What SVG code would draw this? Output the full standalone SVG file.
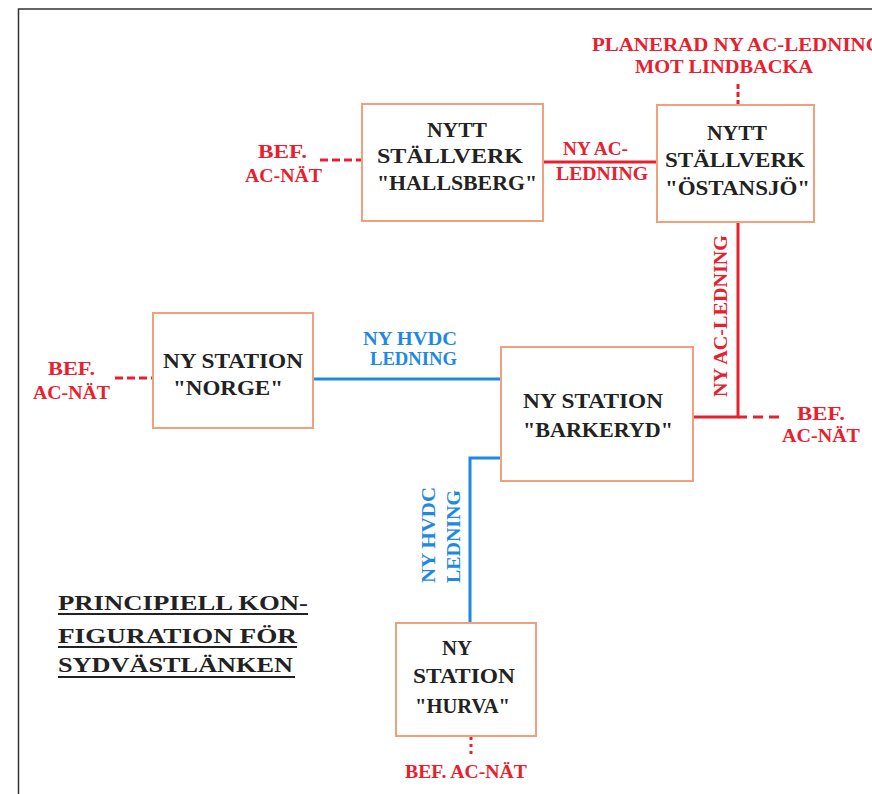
<svg xmlns="http://www.w3.org/2000/svg" width="872" height="794" viewBox="0 0 872 794">
<style>
.box{fill:#fff;stroke:#f2a07c;stroke-width:2}
.bt{font-family:"Liberation Serif","Times New Roman",serif;font-weight:bold;font-size:21px;fill:#222}
.rt{font-family:"Liberation Serif","Times New Roman",serif;font-weight:bold;font-size:18px;fill:#e8202e}
.bl{font-family:"Liberation Serif","Times New Roman",serif;font-weight:bold;font-size:18px;fill:#1e88e5}
.tt{font-family:"Liberation Serif","Times New Roman",serif;font-weight:bold;font-size:21px;fill:#222}
.ac{stroke:#e8202e;stroke-width:3;fill:none}
.dc{stroke:#1e88e5;stroke-width:3;fill:none}
</style>
<rect width="872" height="794" fill="#fff"/>
<path d="M18.5 800 V9 H880" fill="none" stroke="#333" stroke-width="1.5"/>

<g id="connectors">
<line class="ac" x1="320" y1="160" x2="362" y2="160" stroke-dasharray="8 4"/>
<line class="ac" x1="543" y1="162" x2="657" y2="162"/>
<line class="ac" x1="738" y1="84" x2="738" y2="105" stroke-dasharray="5 3"/>
<path class="ac" d="M738 222 V417 H693" stroke-width="3.5"/>
<line class="ac" x1="738" y1="417" x2="747" y2="417" stroke-width="3.5"/>
<line class="ac" x1="753" y1="417" x2="782" y2="417" stroke-dasharray="10 6"/>
<line class="ac" x1="115" y1="378" x2="153" y2="378" stroke-dasharray="8 4"/>
<line class="dc" x1="313" y1="379" x2="500" y2="379"/>
<path class="dc" d="M500 458 H470 V623"/>
<line class="ac" x1="471" y1="737" x2="471" y2="754" stroke-dasharray="3 4"/>
</g>

<g id="hallsberg">
<rect class="box" x="362" y="104" width="181" height="117"/>
<text class="bt" x="427" y="137" textLength="60" lengthAdjust="spacingAndGlyphs">NYTT</text>
<text class="bt" x="377" y="163" textLength="146" lengthAdjust="spacingAndGlyphs">STÄLLVERK</text>
<text class="bt" x="377" y="190" textLength="160" lengthAdjust="spacingAndGlyphs">"HALLSBERG"</text>
</g>

<g id="ostansjo">
<rect class="box" x="657" y="105" width="157" height="117"/>
<text class="bt" x="707" y="140" textLength="60" lengthAdjust="spacingAndGlyphs">NYTT</text>
<text class="bt" x="665" y="167" textLength="140" lengthAdjust="spacingAndGlyphs">STÄLLVERK</text>
<text class="bt" x="665" y="195" textLength="145" lengthAdjust="spacingAndGlyphs">"ÖSTANSJÖ"</text>
</g>

<g id="norge">
<rect class="box" x="153" y="313" width="160" height="115"/>
<text class="bt" x="163" y="368" textLength="140" lengthAdjust="spacingAndGlyphs">NY STATION</text>
<text class="bt" x="173" y="395" textLength="110" lengthAdjust="spacingAndGlyphs">"NORGE"</text>
</g>

<g id="barkeryd">
<rect class="box" x="501" y="347" width="192" height="134"/>
<text class="bt" x="523" y="408" textLength="140" lengthAdjust="spacingAndGlyphs">NY STATION</text>
<text class="bt" x="523" y="437" textLength="150" lengthAdjust="spacingAndGlyphs">"BARKERYD"</text>
</g>

<g id="hurva">
<rect class="box" x="396" y="623" width="140" height="113"/>
<text class="bt" x="442" y="655" textLength="30" lengthAdjust="spacingAndGlyphs">NY</text>
<text class="bt" x="413" y="683" textLength="102" lengthAdjust="spacingAndGlyphs">STATION</text>
<text class="bt" x="415" y="713" textLength="95" lengthAdjust="spacingAndGlyphs">"HURVA"</text>
</g>

<g id="labels">
<text class="rt" x="592" y="51" textLength="290" lengthAdjust="spacingAndGlyphs">PLANERAD NY AC-LEDNING</text>
<text class="rt" x="635" y="73" textLength="178" lengthAdjust="spacingAndGlyphs">MOT LINDBACKA</text>
<text class="rt" x="258" y="158" textLength="49" lengthAdjust="spacingAndGlyphs">BEF.</text>
<text class="rt" x="245" y="182" textLength="77" lengthAdjust="spacingAndGlyphs">AC-NÄT</text>
<text class="rt" x="563" y="155" textLength="65" lengthAdjust="spacingAndGlyphs">NY AC-</text>
<text class="rt" x="556" y="180" textLength="92" lengthAdjust="spacingAndGlyphs">LEDNING</text>
<text class="rt" transform="translate(727 397) rotate(-90)" x="0" y="0" textLength="162" lengthAdjust="spacingAndGlyphs">NY AC-LEDNING</text>
<text class="rt" x="797" y="420" textLength="48" lengthAdjust="spacingAndGlyphs">BEF.</text>
<text class="rt" x="782" y="442" textLength="78" lengthAdjust="spacingAndGlyphs">AC-NÄT</text>
<text class="rt" x="48" y="375" textLength="47" lengthAdjust="spacingAndGlyphs">BEF.</text>
<text class="rt" x="33" y="399" textLength="77" lengthAdjust="spacingAndGlyphs">AC-NÄT</text>
<text class="rt" x="405" y="778" textLength="122" lengthAdjust="spacingAndGlyphs">BEF. AC-NÄT</text>
<text class="bl" x="363" y="345" textLength="94" lengthAdjust="spacingAndGlyphs">NY HVDC</text>
<text class="bl" x="370" y="365" textLength="87" lengthAdjust="spacingAndGlyphs">LEDNING</text>
<text class="bl" transform="translate(435 583) rotate(-90)" x="0" y="0" textLength="96" lengthAdjust="spacingAndGlyphs">NY HVDC</text>
<text class="bl" transform="translate(460 583) rotate(-90)" x="0" y="0" textLength="93" lengthAdjust="spacingAndGlyphs">LEDNING</text>
</g>

<g id="title">
<text class="tt" x="58" y="610" textLength="250" lengthAdjust="spacingAndGlyphs">PRINCIPIELL KON-</text>
<text class="tt" x="58" y="643" textLength="239" lengthAdjust="spacingAndGlyphs">FIGURATION FÖR</text>
<text class="tt" x="58" y="672" textLength="235" lengthAdjust="spacingAndGlyphs">SYDVÄSTLÄNKEN</text>
<line x1="58" y1="614" x2="308" y2="614" stroke="#222" stroke-width="2"/>
<line x1="58" y1="647" x2="297" y2="647" stroke="#222" stroke-width="2"/>
<line x1="58" y1="677" x2="295" y2="677" stroke="#222" stroke-width="2"/>
</g>
</svg>
